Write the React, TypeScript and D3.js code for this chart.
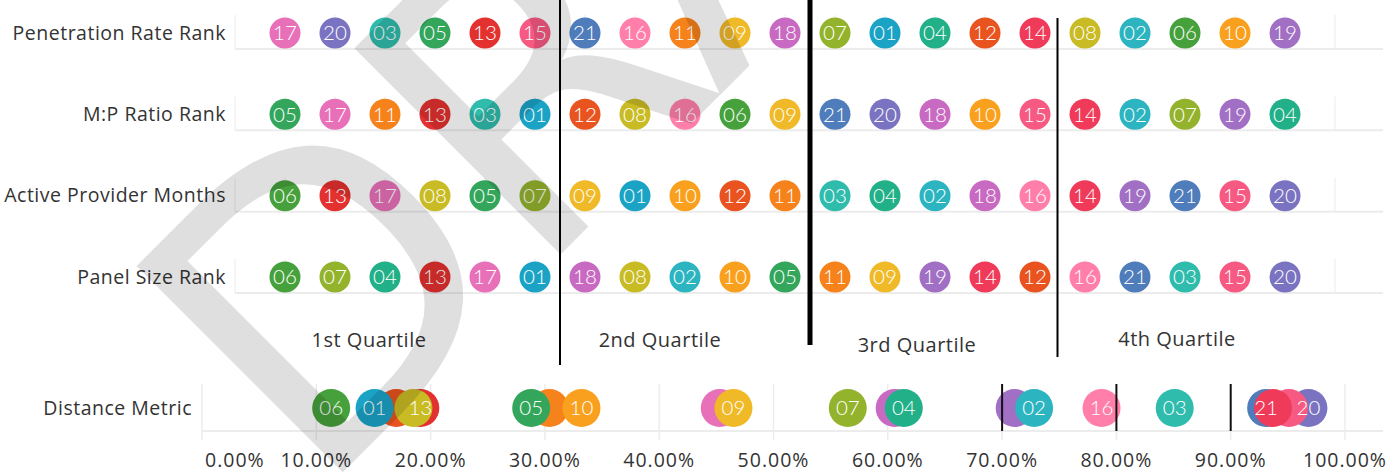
import React from 'react';
import * as d3 from 'd3';

// provider ids and their colours
const providerIds = ['01', '02', '03', '04', '05', '06', '07', '08', '09', '10', '11', '12', '13', '14', '15', '16', '17', '18', '19', '20', '21'];
const providerColors = ['#1ba3c6', '#2cb5c0', '#30bcad', '#21b087', '#33a65c', '#46a13c', '#94b32d', '#c9bb24', '#f0b928', '#f9a11e', '#f6821c', '#e8531f', '#e3312f', '#ef3a5a', '#f65a83', '#ff7faa', '#e870b9', '#c96ac2', '#a16fc4', '#7a73c1', '#4f7cba'];

// rank rows: ids listed from rank 1 to rank 21
const rowLabels = ['Penetration Rate Rank', 'M:P Ratio Rank', 'Active Provider Months', 'Panel Size Rank'];
const penetrationRank = ['17', '20', '03', '05', '13', '15', '21', '16', '11', '09', '18', '07', '01', '04', '12', '14', '08', '02', '06', '10', '19'];
const mpRatioRank = ['05', '17', '11', '13', '03', '01', '12', '08', '16', '06', '09', '21', '20', '18', '10', '15', '14', '02', '07', '19', '04'];
const activeMonthsRank = ['06', '13', '17', '08', '05', '07', '09', '01', '10', '12', '11', '03', '04', '02', '18', '16', '14', '19', '21', '15', '20'];
const panelSizeRank = ['06', '07', '04', '13', '17', '01', '18', '08', '02', '10', '05', '11', '09', '19', '14', '12', '16', '21', '03', '15', '20'];

// quartile dividers (in rank units) and labels
const quartileBreaks = [6.5, 11.5, 16.45];
const quartileLabels = ['1st Quartile', '2nd Quartile', '3rd Quartile', '4th Quartile'];

// distance metric, listed in drawing order
const distanceIds = ['12', '13', '11', '17', '18', '19', '20', '21', '15', '14', '06', '01', '08', '05', '10', '09', '07', '04', '02', '16', '03'];
const distanceValues = [0.170, 0.191, 0.304, 0.453, 0.606, 0.711, 0.968, 0.931, 0.951, 0.937, 0.113, 0.151, 0.185, 0.288, 0.332, 0.465, 0.565, 0.614, 0.728, 0.787, 0.851];
const distanceLabelled = ['06', '01', '13', '05', '10', '09', '07', '04', '02', '16', '03', '21', '20'];
const distanceRefLines = [0.7, 0.8, 0.9];
const distanceTicks = [0, 0.1, 0.2, 0.3, 0.4, 0.5, 0.6, 0.7, 0.8, 0.9, 1.0];

const W = 1395;
const H = 472;
const textFont = '"Open Sans", "Noto Sans", sans-serif';
const markFont = 'Lato, "Noto Sans", sans-serif';
const grid = '#ececec';

const color = d3.scaleOrdinal<string, string>().domain(providerIds).range(providerColors);

export default function App() {
  const rows = [penetrationRank, mpRatioRank, activeMonthsRank, panelSizeRank];
  const xRank = d3.scaleLinear().domain([0, 22]).range([235, 1335]);
  const yRow = d3.scalePoint<string>().domain(rowLabels).range([33, 277]);
  const xPct = d3.scaleLinear().domain([0, 1]).range([202, 1345]);
  const fmt = d3.format('.2%');
  const rTop = 15.5;
  const rBottom = 19;
  const paneRight = 1383;
  const yDist = 408;

  const lineTops = [0, 0, 18];
  const lineBottoms = [365, 345, 357];
  const lineWidths = [2, 5, 2];
  const qLabelX = [369, 660, 917, 1177];
  const qLabelY = [340, 340, 345, 339];

  return (
    <svg width={W} height={H} style={{ position: 'absolute', left: 0, top: 0, background: '#fff' }}>
      {/* rank rows */}
      {rows.map((order, i) => {
        const cy = yRow(rowLabels[i])!;
        return (
          <g key={rowLabels[i]}>
            {d3.range(0, 23).map((t) => (
              <line key={t} x1={xRank(t)} x2={xRank(t)} y1={cy - 18} y2={cy + 16} stroke={grid} strokeWidth={1} />
            ))}
            <line x1={xRank(0)} x2={paneRight} y1={cy + 16} y2={cy + 16} stroke={grid} strokeWidth={2} />
            <text x={226} y={cy} dy="0.35em" textAnchor="end" fontFamily={textFont} fontSize={19.5} letterSpacing={0.5} fill="#333">
              {rowLabels[i]}
            </text>
            {order.map((id, k) => (
              <g key={id} transform={`translate(${xRank(k + 1)},${cy})`}>
                <circle r={rTop} fill={color(id)} />
                <text dy="0.36em" textAnchor="middle" fontFamily={markFont} fontWeight={300} fontSize={20.5} fill="#fff">
                  {id}
                </text>
              </g>
            ))}
          </g>
        );
      })}

      {/* quartile dividers */}
      {quartileBreaks.map((b, i) => (
        <line key={b} x1={xRank(b)} x2={xRank(b)} y1={lineTops[i]} y2={lineBottoms[i]} stroke="#000" strokeWidth={lineWidths[i]} />
      ))}
      {quartileLabels.map((q, i) => (
        <text key={q} x={qLabelX[i]} y={qLabelY[i]} dy="0.35em" textAnchor="middle" fontFamily={textFont} fontSize={20} letterSpacing={0.5} fill="#333">
          {q}
        </text>
      ))}

      {/* distance metric */}
      <g>
        {distanceTicks.map((t) => (
          <line key={t} x1={xPct(t)} x2={xPct(t)} y1={384} y2={440} stroke={grid} strokeWidth={1.5} />
        ))}
        <line x1={xPct(0)} x2={paneRight} y1={431} y2={431} stroke={grid} strokeWidth={2} />
        {distanceTicks.map((t, i) => (
          <text key={t} x={i === 0 ? xPct(t) + 3 : xPct(t)} y={460} dy="0.35em" textAnchor={i === 0 ? 'start' : 'middle'} fontFamily={textFont} fontSize={19.5} letterSpacing={1} fill="#333">
            {fmt(t)}
          </text>
        ))}
        <text x={192} y={yDist} dy="0.35em" textAnchor="end" fontFamily={textFont} fontSize={19.5} letterSpacing={0.5} fill="#333">
          Distance Metric
        </text>
        {distanceIds.map((id, i) => (
          <circle key={id} cx={xPct(distanceValues[i])} cy={yDist} r={rBottom} fill={color(id)} />
        ))}
        {distanceRefLines.map((v) => (
          <line key={v} x1={xPct(v)} x2={xPct(v)} y1={384} y2={431} stroke="#111" strokeWidth={2} />
        ))}
        {distanceIds.map((id, i) =>
          distanceLabelled.includes(id) ? (
            <text key={id} x={xPct(distanceValues[i])} y={yDist} dy="0.36em" textAnchor="middle" fontFamily={markFont} fontWeight={300} fontSize={20.5} fill="#fff">
              {id}
            </text>
          ) : null
        )}
      </g>

      {/* watermark */}
      <text transform="translate(315,500) rotate(-45)" fontFamily='"DejaVu Sans", sans-serif' fontSize={400} fill="#000" opacity={0.12}>
        DRAFT
      </text>
    </svg>
  );
}
